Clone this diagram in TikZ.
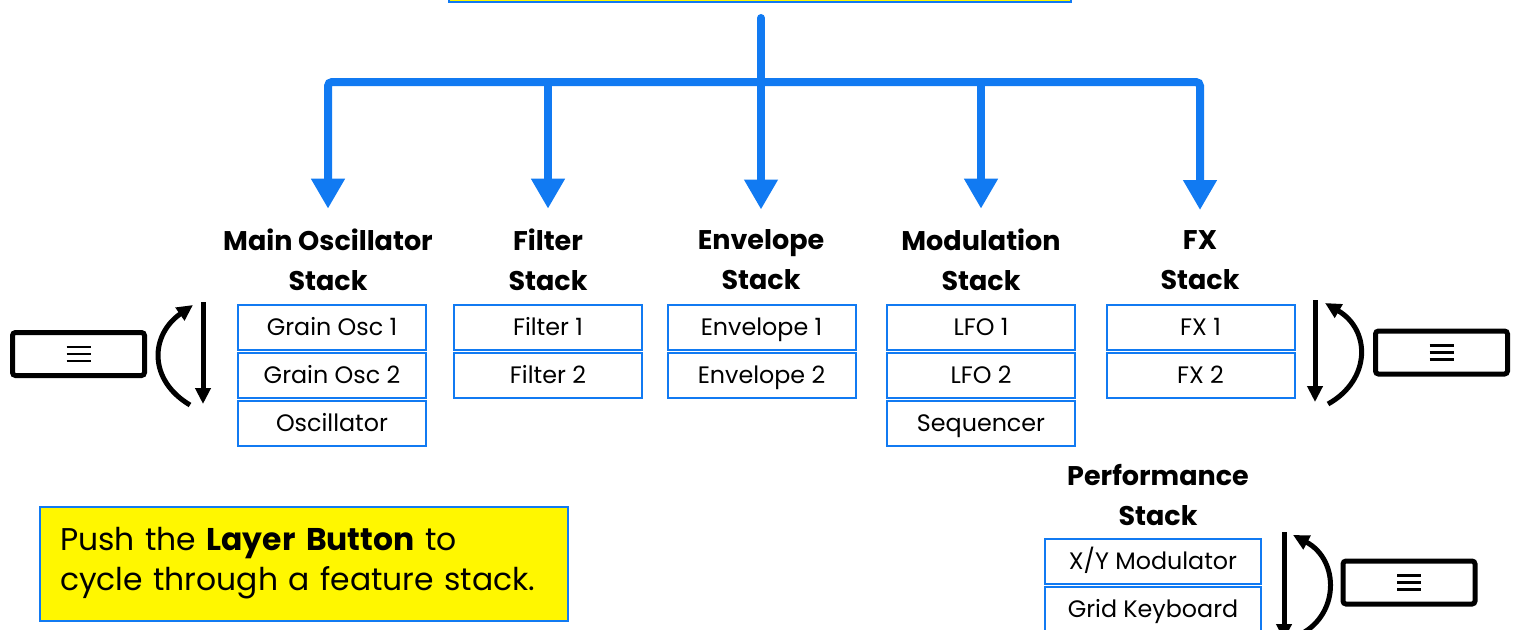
\documentclass[tikz,border=0pt]{standalone}
\usepackage{fontspec}
\setmainfont{Poppins}
\usetikzlibrary{arrows.meta,positioning}

\definecolor{stackblue}{RGB}{17,122,242}
\definecolor{noteyellow}{RGB}{255,247,0}

\tikzset{
  flowline/.style={stackblue,line width=4pt,line cap=round},
  flow/.style={stackblue,line width=4pt,-{Triangle[width=16pt,length=15pt]}},
  stackhead/.style={font=\fontsize{13.5}{20}\selectfont\bfseries,align=center,inner sep=0pt},
  layer/.style={draw=stackblue,line width=1pt,minimum width=94pt,minimum height=22.5pt,
    inner sep=0pt,text height=9pt,text depth=1pt,font=\fontsize{11.9}{14}\selectfont},
  layerbtn/.style={draw,line width=2.5pt,rounded corners=1.5pt,minimum width=66pt,
    minimum height=21.5pt,inner sep=0pt},
  cyclearrow/.style={line width=2.5pt,-{Triangle[width=7.5pt,length=8pt]}},
  note/.style={draw=stackblue,line width=1pt,fill=noteyellow,align=left,text width=244pt,
    inner xsep=10pt,minimum height=57pt,font=\fontsize{15.7}{20}\selectfont}
}

% three bars of the layer button
\newcommand{\menuicon}[1]{%
  \foreach \d in {-3.5,0,3.5}
    \draw[line width=1.2pt] ([xshift=-6pt,yshift=\d pt]#1.center) -- ++(12pt,0);}

\begin{document}
\begin{tikzpicture}[x=0.5pt,y=-0.5pt]
\useasboundingbox (0,0) rectangle (1519,629);

% top box (cut by the page edge)
\node[draw=stackblue,fill=noteyellow,line width=1pt,minimum width=311pt,minimum height=40pt,
  anchor=south] (top) at (759.5,3) {};

% stack headers
\node[stackhead] (oschdr) at (328,260) {Main Oscillator\\Stack};
\node[stackhead] (filthdr) at (548,260) {Filter\\Stack};
\node[stackhead] (envhdr) at (761,260) {Envelope\\Stack};
\node[stackhead] (modhdr) at (981,260) {Modulation\\Stack};
\node[stackhead] (fxhdr) at (1200,260) {FX\\Stack};
\node[stackhead] (perfhdr) at (1158,495) {Performance\\Stack};

% tree of arrows
\coordinate (trunk) at (761,18);
\coordinate (hub) at (761,82);
\draw[flowline] (trunk) -- (hub);
\draw[flow] (hub) -- ([yshift=10pt]envhdr.north);
\draw[flow,rounded corners=2pt] (hub) -| ([yshift=10pt]oschdr.north);
\draw[flow,rounded corners=2pt] (hub) -| ([yshift=10pt]fxhdr.north);
\draw[flow] (filthdr |- hub) -- ([yshift=10pt]filthdr.north);
\draw[flow] (modhdr |- hub) -- ([yshift=10pt]modhdr.north);

% stacks
\node[layer] (osc1) at (332,327.5) {Grain Osc 1};
\node[layer,below=0.5pt of osc1] (osc2) {Grain Osc 2};
\node[layer,below=0.5pt of osc2] (osc3) {Oscillator};

\node[layer] (filt1) at (548,327.5) {Filter 1};
\node[layer,below=0.5pt of filt1] (filt2) {Filter 2};

\node[layer] (env1) at (761.5,327.5) {Envelope 1};
\node[layer,below=0.5pt of env1] (env2) {Envelope 2};

\node[layer] (mod1) at (981,327.5) {LFO 1};
\node[layer,below=0.5pt of mod1] (mod2) {LFO 2};
\node[layer,below=0.5pt of mod2] (mod3) {Sequencer};

\node[layer] (fx1) at (1200.5,327.5) {FX 1};
\node[layer,below=0.5pt of fx1] (fx2) {FX 2};

\node[layer,minimum width=108pt] (perf1) at (1153,561.5) {X/Y Modulator};
\node[layer,minimum width=108pt,below=0.5pt of perf1] (perf2) {Grid Keyboard};

% layer buttons
\node[layerbtn] (lbtn) at (78.5,354) {};
\node[layerbtn] (rbtn) at (1441.5,352.5) {};
\node[layerbtn] (pbtn) at (1409,582.5) {};
\menuicon{lbtn}
\menuicon{rbtn}
\menuicon{pbtn}

% cycle arrows
\draw[cyclearrow] (203,302) -- (203,404);
\draw[cyclearrow] (190,405) .. controls (148,380) and (150,335) .. (193,305);
\draw[cyclearrow] (1315,300) -- (1315,402);
\draw[cyclearrow] (1328,404) .. controls (1371,380) and (1371,330) .. (1325,303);
\draw[cyclearrow] (1284,532) -- (1284,640);
\draw[cyclearrow] (1297,636) .. controls (1340,617) and (1340,560) .. (1293,535);

% hint
\node[note] (hint) at (304,563.5) {Push the \textbf{Layer Button} to\\cycle through a feature stack.};
\end{tikzpicture}
\end{document}
